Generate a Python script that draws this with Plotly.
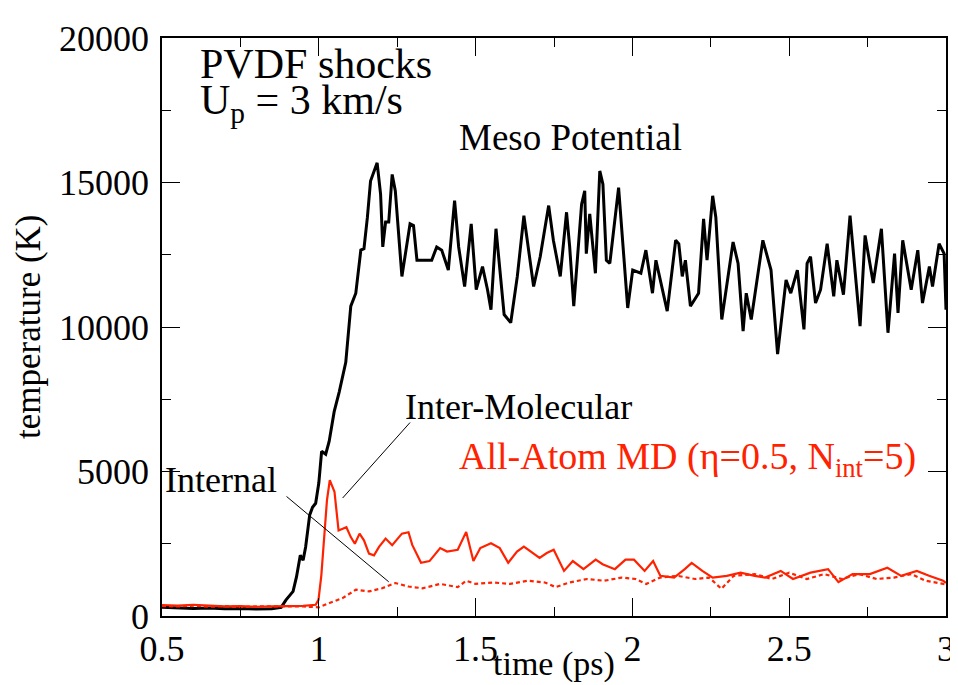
import plotly.graph_objects as go

# ---------------- data ----------------
meso_t = [0.5, 0.55, 0.6, 0.65, 0.7, 0.75, 0.8, 0.85, 0.88, 0.895,
          0.908, 0.918, 0.929, 0.941, 0.95, 0.958, 0.971, 0.98, 0.99, 1.0,
          1.009, 1.022, 1.033, 1.049, 1.065, 1.086, 1.102, 1.118, 1.134, 1.144,
          1.155, 1.165, 1.186, 1.197, 1.204, 1.213, 1.223, 1.234, 1.244, 1.265,
          1.291, 1.302, 1.313, 1.36, 1.376, 1.392, 1.413, 1.433, 1.446, 1.465,
          1.486, 1.502, 1.522, 1.538, 1.549, 1.565, 1.591, 1.612, 1.633, 1.654,
          1.685, 1.706, 1.733, 1.748, 1.77, 1.79, 1.8, 1.813, 1.838, 1.848,
          1.853, 1.864, 1.882, 1.896, 1.906, 1.917, 1.928, 1.956, 1.985, 2.001,
          2.027, 2.043, 2.064, 2.075, 2.111, 2.138, 2.148, 2.159, 2.169, 2.185,
          2.211, 2.227, 2.238, 2.256, 2.266, 2.285, 2.321, 2.337, 2.353, 2.363,
          2.379, 2.416, 2.442, 2.463, 2.49, 2.505, 2.526, 2.547, 2.557, 2.568,
          2.584, 2.6, 2.621, 2.642, 2.652, 2.673, 2.694, 2.726, 2.742, 2.768,
          2.794, 2.815, 2.836, 2.847, 2.862, 2.889, 2.91, 2.925, 2.947, 2.957,
          2.978, 2.994, 3.0]
meso_T = [300, 280, 260, 280, 250, 260, 240, 250, 300, 550,
          735, 850, 1360, 2100, 1930, 2390, 3500, 3760, 3900, 4600,
          5700, 5600, 6040, 7070, 7750, 8780, 10720, 11170, 12660, 12710,
          13800, 15050, 15680, 14600, 12770, 13630, 13630, 15280, 14710, 11750,
          13570, 13510, 12310, 12310, 12770, 12660, 11970, 14370, 12770, 11400,
          13570, 11290, 12090, 11290, 10600, 13400, 10430, 10150, 11750, 13850,
          11400, 12430, 14200, 13000, 11750, 13970, 12770, 10720, 14250, 14710,
          12540, 13910, 11860, 15400, 14940, 12310, 12200, 14820, 10660, 11970,
          11860, 12660, 11170, 12310, 10550, 13000, 12880, 11750, 12310, 10720,
          11170, 13740, 12310, 14540, 13800, 10260, 12940, 12200, 9860, 11170,
          10260, 13000, 11970, 9060, 11630, 11170, 11970, 9920, 12200, 12430,
          10830, 11290, 12880, 11060, 12310, 11120, 13850, 10030, 13170, 11520,
          13400, 9800, 12540, 10490, 13000, 11290, 12660, 10830, 12090, 11400,
          12880, 12540, 10600]

inter_t = [0.5, 0.55, 0.6, 0.65, 0.7, 0.75, 0.8, 0.85, 0.9, 0.95,
           0.99, 0.999, 1.008, 1.018, 1.026, 1.035, 1.05, 1.063, 1.076, 1.088,
           1.102, 1.115, 1.13, 1.144, 1.16, 1.176, 1.192, 1.213, 1.234, 1.265,
           1.286, 1.298, 1.326, 1.353, 1.387, 1.409, 1.443, 1.47, 1.493, 1.515,
           1.549, 1.577, 1.604, 1.632, 1.654, 1.682, 1.704, 1.727, 1.749, 1.782,
           1.81, 1.844, 1.883, 1.905, 1.944, 1.978, 2.005, 2.039, 2.066, 2.089,
           2.133, 2.167, 2.189, 2.223, 2.256, 2.301, 2.345, 2.39, 2.423, 2.473,
           2.512, 2.568, 2.624, 2.657, 2.702, 2.757, 2.813, 2.857, 2.907, 2.946,
           2.991, 3.0]
inter_T = [380, 360, 390, 350, 330, 340, 320, 330, 340, 350,
           390, 560, 1400, 2900, 4000, 4700, 4300, 2960, 3020, 3070,
           2730, 2500, 2850, 2620, 2160, 2100, 2390, 2680, 2450, 2850,
           2900, 2460, 1840, 1900, 2350, 2230, 2290, 2910, 1900, 2350,
           2520, 2350, 1840, 2230, 2400, 2180, 2010, 2180, 2290, 1560,
           1900, 1620, 1950, 1790, 1620, 1950, 1950, 1560, 1900, 1390,
           1330, 1620, 1840, 1560, 1330, 1390, 1500, 1390, 1330, 1560,
           1280, 1500, 1620, 1170, 1450, 1450, 1670, 1390, 1560, 1390,
           1220, 1150]

internal_t = [0.5, 0.55, 0.6, 0.65, 0.7, 0.75, 0.8, 0.85, 0.9, 0.95,
              1.0, 1.034, 1.076, 1.118, 1.16, 1.202, 1.244, 1.286, 1.331, 1.387,
              1.443, 1.47, 1.5, 1.555, 1.61, 1.666, 1.721, 1.755, 1.8, 1.855,
              1.91, 1.966, 2.01, 2.044, 2.089, 2.144, 2.2, 2.245, 2.284, 2.323,
              2.39, 2.445, 2.5, 2.556, 2.612, 2.668, 2.723, 2.779, 2.834, 2.89,
              2.935, 2.991, 3.0]
internal_T = [350, 330, 360, 320, 340, 310, 330, 320, 330, 330,
              300, 450, 620, 910, 850, 960, 1140, 1020, 960, 1110,
              1000, 1220, 1110, 1160, 1110, 1220, 1160, 1000, 1160, 1280,
              1220, 1330, 1280, 1110, 1330, 1390, 1280, 1330, 940, 1390,
              1450, 1280, 1500, 1280, 1450, 1280, 1450, 1280, 1330, 1450,
              1220, 1110, 1100]

x_tickvals = [0.5, 1.0, 1.5, 2.0, 2.5, 3.0]
x_ticktext = ["0.5", "1", "1.5", "2", "2.5", "3"]
x_minor = [0.75, 1.25, 1.75, 2.25, 2.75]
y_tickvals = [0, 5000, 10000, 15000, 20000]
y_ticktext = ["0", "5000", "10000", "15000", "20000"]
y_minor = [2500, 7500, 12500, 17500]

FONT = "Liberation Serif"
RED = "#ff2200"

fig = go.Figure()
fig.add_trace(go.Scatter(x=meso_t, y=meso_T, mode="lines",
                         line=dict(color="black", width=3), showlegend=False))
fig.add_trace(go.Scatter(x=internal_t, y=internal_T, mode="lines",
                         line=dict(color=RED, width=2.2, dash="4px,3px"), showlegend=False))
fig.add_trace(go.Scatter(x=inter_t, y=inter_T, mode="lines",
                         line=dict(color=RED, width=2.2), showlegend=False))

axis_common = dict(showline=True, linecolor="black", linewidth=1.5, mirror="allticks",
                   ticks="inside", ticklen=18, tickwidth=1, tickcolor="black",
                   showgrid=False, zeroline=False,
                   tickfont=dict(family=FONT, size=36, color="black"))

fig.update_xaxes(range=[0.5, 3.0], tickmode="array", tickvals=x_tickvals, ticktext=x_ticktext,
                 minor=dict(ticks="inside", ticklen=9, tickwidth=1, tickcolor="black",
                            tickvals=x_minor, showgrid=False),
                 **axis_common)
fig.update_yaxes(range=[0, 20000], tickmode="array", tickvals=y_tickvals, ticktext=y_ticktext,
                 minor=dict(ticks="inside", ticklen=9, tickwidth=1, tickcolor="black",
                            tickvals=y_minor, showgrid=False),
                 ticklabelstandoff=4,
                 **axis_common)

def txt(x, y, s, size, color="black", xanchor="left", **kw):
    fig.add_annotation(x=x, y=y, xref="x", yref="y", text=s, showarrow=False,
                       xanchor=xanchor, yanchor="middle", borderpad=0,
                       font=dict(family=FONT, size=size, color=color), **kw)

txt(0.617, 19100, "PVDF shocks", 42)
txt(0.617, 17750, "U<sub>p</sub> = 3 km/s", 42)
txt(1.445, 16540, "Meso Potential", 37)
txt(1.271, 7230, "Inter-Molecular", 36)
txt(0.507, 4700, "Internal", 36)
txt(1.445, 5450, "All-Atom MD (η=0.5, N<sub>int</sub>=5)", 38, color=RED)

# leader lines
fig.add_shape(type="line", xref="x", yref="y", x0=0.897, y0=4137, x1=1.223, y1=1183,
              line=dict(color="black", width=1))
fig.add_shape(type="line", xref="x", yref="y", x0=1.291, y0=6695, x1=1.076, y1=4083,
              line=dict(color="black", width=1))

# axis titles
fig.add_annotation(x=0.5, y=-0.0836, xref="paper", yref="paper", text="time (ps)",
                   showarrow=False, xanchor="center", yanchor="middle", borderpad=0,
                   font=dict(family=FONT, size=34, color="black"))
fig.add_annotation(x=-0.171, y=0.5, xref="paper", yref="paper", text="temperature (K)",
                   showarrow=False, xanchor="center", yanchor="middle", textangle=-90,
                   borderpad=0, font=dict(family=FONT, size=35, color="black"))

fig.update_layout(width=958, height=685, autosize=False,
                  margin=dict(l=154, r=11, t=22, b=77),
                  paper_bgcolor="white", plot_bgcolor="white",
                  font=dict(family=FONT, color="black"))

fig.write_html("out.html")
